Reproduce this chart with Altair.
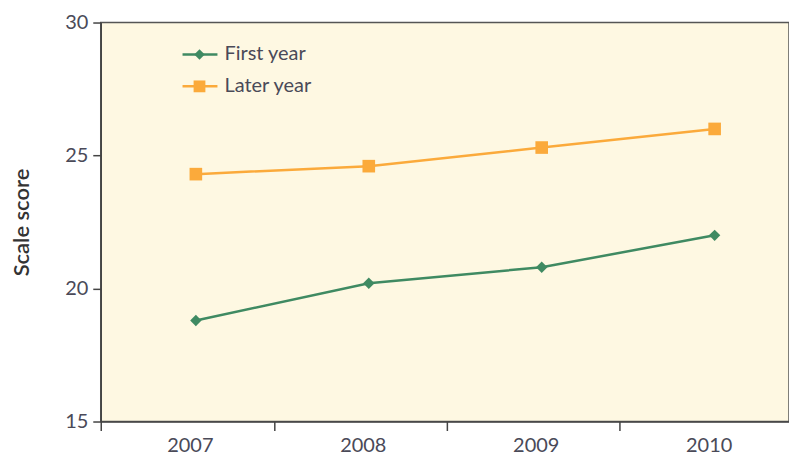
import altair as alt
import pandas as pd

# Scale scores by year for first-year and later-year groups
years = [2007, 2008, 2009, 2010]
series_names = ["First year", "Later year"]
first_year = [18.8, 20.2, 20.8, 22.0]
later_year = [24.3, 24.6, 25.3, 26.0]
y_ticks = [15, 20, 25, 30]

colors = ["#3F8A62", "#FBAA3B"]
shapes = ["diamond", "square"]
sizes = [130, 160]

FONT = "Lato"
TEXT = "#4a4a58"
AXIS = "#444444"

df = pd.DataFrame({
    "year": years * 2,
    "score": first_year + later_year,
    "series": [series_names[0]] * len(years) + [series_names[1]] * len(years),
})

x_scale = alt.Scale(domain=[2006.45, 2010.43], nice=False, zero=False)
y_scale = alt.Scale(domain=[15, 30], nice=False, zero=False)
color_scale = alt.Scale(domain=series_names, range=colors)

# Tick marks sit between the years; labels stay under the years
x_enc = alt.X(
    "year:Q",
    scale=x_scale,
    axis=alt.Axis(
        values=years, format="d", title=None, grid=False,
        tickOffset=-95, labelOffset=89, tickSize=9, labelPadding=5,
        labelFont=FONT, labelFontSize=20, labelColor=TEXT,
        domainColor=AXIS, domainWidth=1.5, tickColor=AXIS, tickWidth=1.5,
    ),
)
y_enc = alt.Y(
    "score:Q",
    scale=y_scale,
    axis=alt.Axis(
        values=y_ticks, title="Scale score", grid=False,
        tickSize=8, labelPadding=5,
        labelFont=FONT, labelFontSize=20, labelColor=TEXT,
        titleFont=FONT, titleFontSize=22, titleFontWeight=600, titleColor="#333333",
        titlePadding=31,
        domainColor=AXIS, domainWidth=1.5, tickColor=AXIS, tickWidth=1.5,
    ),
)

base = alt.Chart(df)
lines = base.mark_line(strokeWidth=2.5).encode(
    x=x_enc, y=y_enc,
    color=alt.Color("series:N", scale=color_scale, legend=None),
)
points = base.mark_point(filled=True, opacity=1).encode(
    x=x_enc, y=y_enc,
    color=alt.Color("series:N", scale=color_scale, legend=None),
    shape=alt.Shape("series:N", scale=alt.Scale(domain=series_names, range=shapes), legend=None),
    size=alt.Size("series:N", scale=alt.Scale(domain=series_names, range=sizes), legend=None),
)

# Hand-drawn legend: line segment with marker, then the series name
legend_layers = []
for i, name in enumerate(series_names):
    ld = alt.Chart(pd.DataFrame({"series": [name]}))
    ypos = 32 + 32 * i
    legend_layers.append(
        ld.mark_rule(color=colors[i], strokeWidth=2.5).encode(
            x=alt.value(82), x2=alt.value(117), y=alt.value(ypos)
        )
    )
    legend_layers.append(
        ld.mark_point(filled=True, opacity=1, shape=shapes[i], size=sizes[i] - 20, color=colors[i]).encode(
            x=alt.value(99), y=alt.value(ypos)
        )
    )
    legend_layers.append(
        ld.mark_text(align="left", baseline="middle", font=FONT, fontSize=20, color=TEXT).encode(
            x=alt.value(124), y=alt.value(ypos), text="series:N"
        )
    )

chart = alt.layer(lines, points, *legend_layers).properties(
    width=690,
    height=400,
    autosize=alt.AutoSizeParams(type="none"),
    padding={"left": 101, "top": 22, "right": 0, "bottom": 39},
    background="white",
).configure_view(
    fill="#FEF8E2", stroke="#555555", strokeWidth=1.5
)

chart.save("out.html", embed_options={"renderer": "svg", "actions": False})
